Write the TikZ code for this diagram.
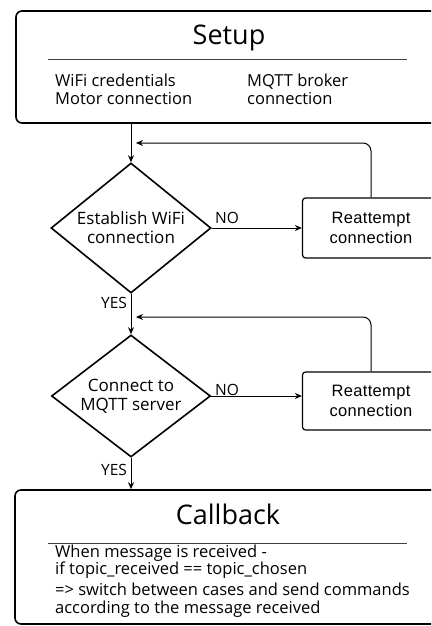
\documentclass[tikz,border=0pt]{standalone}
\usepackage{fontspec}
\setmainfont{Open Sans}
\newfontfamily\arialf[LetterSpace=2]{Liberation Sans}
\usetikzlibrary{shapes.geometric,arrows.meta}
\begin{document}
\begin{tikzpicture}[x=1pt,y=-1pt,
 box/.style={draw,line width=1.6pt,rounded corners=6pt},
 dec/.style={draw,diamond,line width=1.6pt,inner sep=0pt,align=center,font=\fontsize{17}{19}\selectfont},
 retry/.style={draw,rectangle,line width=1.2pt,rounded corners=3pt,align=center,font=\arialf\fontsize{16.5}{20}\selectfont},
 arr/.style={line width=1pt,-{Stealth[length=7pt,width=6pt]}},
 lbl/.style={font=\fontsize{15.5}{17}\selectfont,inner sep=0pt},
 title/.style={font=\fontsize{27}{30}\selectfont,inner sep=0pt},
 body/.style={anchor=base west,align=left,inner sep=0pt,font=\fontsize{16.5}{18}\selectfont},
 sep/.style={line width=0.9pt,draw=black!75}]
\useasboundingbox (0,0) rectangle (431,626);
\begin{scope}
\clip (0,0) rectangle (431,626);
% Setup
\node[box, minimum width=429pt, minimum height=112pt] (setup) at (230.5,67) {};
\node[title] (setuptitle) at (229,38) {Setup};
\coordinate (s1) at (48,59); \coordinate (s2) at (407,59);
\draw[sep] (s1) -- (s2);
\node[body] (setupa) at (55,104) {WiFi credentials\\Motor connection};
\node[body] (setupb) at (247,104) {MQTT broker\\connection};
% decisions
\node[dec, shape aspect=1.23, minimum width=160pt, minimum height=130pt] (d1) at (131,228) {Establish WiFi\\connection};
\node[dec, shape aspect=1.30, minimum width=159pt, minimum height=122pt] (d2) at (131,396) {Connect to\\MQTT server};
% retries
\node[retry, minimum width=137pt, minimum height=60pt] (r1) at (371,228) {Reattempt\\connection};
\node[retry, minimum width=137pt, minimum height=58pt] (r2) at (371,401) {Reattempt\\connection};
% Callback
\node[box, minimum width=430pt, minimum height=134pt] (cb) at (230,557) {};
\node[title] (cbtitle) at (228,514) {Callback};
\coordinate (s3) at (48,543); \coordinate (s4) at (407,543);
\draw[sep] (s3) -- (s4);
\node[body] (cbbody) at (55,613) {When message is received -\\[-1pt]if topic\_received == topic\_chosen\\[3pt]=> switch between cases and send commands\\according to the message received};
% connectors
\draw[arr] (setup.south -| d1.north) -- (d1.north);
\draw[arr] (d1.south) -- (d2.north);
\draw[arr] (d2.south) -- (cb.north -| d2.south);
\draw[arr] (d1.east) -- (r1.west);
\draw[arr] (d2.east) -- (d2.east -| r2.west);
\coordinate (c1) at (136,143);
\coordinate (c2) at (136,317);
\draw[arr, rounded corners=8pt] (r1.north) |- (c1);
\draw[arr, rounded corners=8pt] (r2.north) |- (c2);
% labels
\node[lbl] (no1) at (227,218) {NO};
\node[lbl] (yes1) at (114,303) {YES};
\node[lbl] (no2) at (227,390) {NO};
\node[lbl] (yes2) at (114,470) {YES};
\end{scope}
\end{tikzpicture}
\end{document}
